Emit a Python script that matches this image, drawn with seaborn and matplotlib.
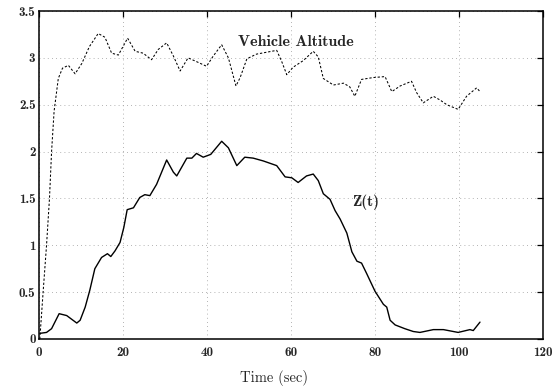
import matplotlib
matplotlib.use("Agg")
import matplotlib.pyplot as plt
import seaborn as sns
import pandas as pd

# Vehicle altitude trace (dashed)
alt_t = [0.2, 1.0, 1.8, 2.5, 3.0, 3.6, 4.6, 5.6, 7.0, 8.6,
         10.2, 12.0, 14.1, 15.7, 17.3, 18.9, 21.1, 22.9, 24.8, 26.8,
         28.4, 30.4, 32.0, 33.6, 35.5, 37.5, 39.9, 41.5, 43.5, 45.1,
         46.9, 47.9, 49.5, 51.8, 54.2, 56.6, 57.8, 59.0, 60.5, 62.9,
         65.3, 66.5, 67.7, 70.1, 72.5, 74.0, 75.2, 76.8, 79.6, 82.4,
         84.0, 86.0, 88.7, 89.9, 91.5, 93.9, 95.5, 97.1, 99.8, 101.8,
         104.2, 105.0]
alt_y = [0.0, 0.51, 1.0, 1.5, 2.0, 2.43, 2.78, 2.89, 2.92, 2.83,
         2.94, 3.12, 3.26, 3.22, 3.05, 3.03, 3.21, 3.07, 3.05, 2.98,
         3.09, 3.16, 3.02, 2.86, 3.0, 2.96, 2.91, 3.02, 3.14, 3.0,
         2.70, 2.79, 2.99, 3.04, 3.06, 3.08, 2.96, 2.82, 2.90, 2.97,
         3.07, 3.01, 2.78, 2.71, 2.73, 2.69, 2.59, 2.77, 2.79, 2.80,
         2.64, 2.70, 2.75, 2.63, 2.52, 2.59, 2.55, 2.50, 2.45, 2.59,
         2.68, 2.64]

# Z(t) trace (solid)
z_t = [0.2, 1.8, 3.0, 4.8, 6.6, 7.8, 9.0, 9.8, 11.0, 12.1,
       13.3, 14.9, 16.3, 17.1, 18.1, 19.3, 20.2, 21.0, 22.5, 24.0,
       25.2, 26.4, 28.0, 30.4, 32.0, 32.8, 35.2, 36.4, 37.5, 39.1,
       40.9, 43.5, 45.1, 47.1, 49.0, 51.0, 53.4, 56.6, 58.6, 60.2,
       61.7, 63.7, 65.3, 66.5, 67.7, 69.3, 70.5, 71.7, 73.3, 74.5,
       75.7, 76.8, 78.0, 80.0, 82.0, 82.8, 83.6, 84.8, 87.1, 89.1,
       90.7, 93.9, 96.3, 99.8, 102.6, 103.4, 105.0]
z_y = [0.06, 0.07, 0.11, 0.27, 0.25, 0.21, 0.17, 0.20, 0.34, 0.52,
       0.75, 0.87, 0.91, 0.88, 0.94, 1.03, 1.19, 1.38, 1.40, 1.51,
       1.54, 1.53, 1.65, 1.91, 1.78, 1.74, 1.93, 1.93, 1.98, 1.94,
       1.97, 2.11, 2.04, 1.85, 1.94, 1.93, 1.90, 1.85, 1.73, 1.72,
       1.67, 1.74, 1.76, 1.69, 1.55, 1.49, 1.37, 1.28, 1.13, 0.93,
       0.83, 0.81, 0.70, 0.51, 0.37, 0.34, 0.20, 0.15, 0.11, 0.08,
       0.07, 0.10, 0.10, 0.07, 0.10, 0.09, 0.18]

x_ticks = [0, 20, 40, 60, 80, 100, 120]
x_labels = ["0", "20", "40", "60", "80", "100", "120"]
y_ticks = [0, 0.5, 1, 1.5, 2, 2.5, 3, 3.5]
y_labels = ["0", "0.5", "1", "1.5", "2", "2.5", "3", "3.5"]

sns.set_style("white")
plt.rcParams["font.family"] = ["cmb10", "DejaVu Serif"]

alt_df = pd.DataFrame({"t": alt_t, "v": alt_y})
z_df = pd.DataFrame({"t": z_t, "v": z_y})

fig = plt.figure(figsize=(5.56, 3.86), dpi=100)
ax = fig.add_axes([0.0701, 0.1218, 0.9065, 0.8497])

sns.lineplot(data=alt_df, x="t", y="v", ax=ax, sort=False, estimator=None,
             color="black", linewidth=0.75)
ax.lines[-1].set_dashes([2.2, 1.8])
sns.lineplot(data=z_df, x="t", y="v", ax=ax, sort=False, estimator=None,
             color="black", linewidth=1.0)

ax.set_xlim(0, 120)
ax.set_ylim(0, 3.5)
ax.set_xticks(x_ticks)
ax.set_xticklabels(x_labels, fontfamily="cmb10", fontsize=9.5)
ax.set_yticks(y_ticks)
ax.set_yticklabels(y_labels, fontfamily="cmb10", fontsize=9.5)
ax.tick_params(axis="both", direction="in", top=True, right=True,
               length=4, width=0.9, color="black")
ax.tick_params(axis="x", pad=5.5)
ax.tick_params(axis="y", pad=2.5)

ax.grid(True, linestyle=(0, (1, 4)), color="#9a9a9a", linewidth=0.6)
for s in ax.spines.values():
    s.set_visible(True)
    s.set_color("black")
    s.set_linewidth(1.1)

ax.set_xlabel("Time (sec)", fontfamily="cmr10", fontsize=10.5)
ax.set_ylabel("")
ax.xaxis.set_label_coords(0.466, -0.095)

ax.text(47.4, 3.13, "Vehicle Altitude", fontfamily="cmb10", fontsize=11.5,
        ha="left", va="baseline")
ax.text(74.5, 1.42, "Z(t)", fontfamily="cmb10", fontsize=11,
        ha="left", va="baseline")

fig.savefig("out.png", dpi=100)
